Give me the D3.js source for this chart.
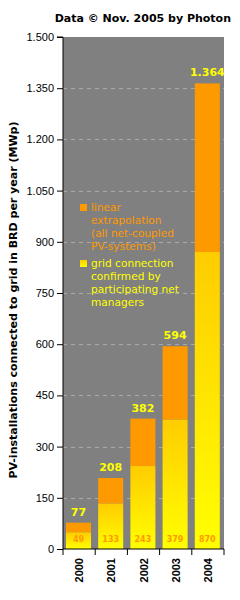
<!DOCTYPE html>
<html>
<head>
<meta charset="utf-8">
<script src="https://cdn.jsdelivr.net/npm/d3@7"></script>
<style>
  body { margin: 0; background: #ffffff; }
  svg { display: block; font-family: "DejaVu Sans", Verdana, sans-serif; }
</style>
</head>
<body>
<div id="chart"></div>
<script>
// data
const years = ['2000', '2001', '2002', '2003', '2004'];
const gridConfirmed = [49, 133, 243, 379, 870];
const totals = [77, 208, 382, 594, 1364];
const yTicks = [0, 150, 300, 450, 600, 750, 900, 1050, 1200, 1350, 1500];
const legendLines = [
  ['linear', 'extrapolation', '(all net-coupled', 'PV-systems)'],
  ['grid connection', 'confirmed by', 'participating net', 'managers']
];

const w = 240, h = 600;
const margin = { top: 37, right: 16, bottom: 51, left: 63 };
const fmt = (d) => d3.format(',')(d).replace(/,/g, '.');

let svg = d3.select('#chart').append('svg').attr('width', w).attr('height', h);

// defs
let defs = svg.append('defs');
let grad = defs.append('linearGradient')
  .attr('id', 'yellowGrad')
  .attr('x1', '0%').attr('y1', '100%')
  .attr('x2', '0%').attr('y2', '0%');
grad.append('stop').attr('offset', '0%').attr('stop-color', '#FFFF00');
grad.append('stop').attr('offset', '100%').attr('stop-color', '#FFCC00');

let x = d3.scaleBand().domain(years).range([margin.left, w - margin.right]);
let y = d3.scaleLinear().domain([0, 1500]).range([h - margin.bottom, margin.top]);

// plot background
svg.append('rect')
  .attr('x', margin.left).attr('y', margin.top)
  .attr('width', w - margin.right - margin.left)
  .attr('height', h - margin.bottom - margin.top)
  .attr('fill', '#808080');

// grid
svg.append('g').selectAll('line')
  .data(yTicks.filter(d => d > 0 && d < 1500))
  .enter().append('line')
  .attr('x1', margin.left).attr('x2', w - margin.right)
  .attr('y1', d => Math.round(y(d)) + 0.5).attr('y2', d => Math.round(y(d)) + 0.5)
  .attr('stroke', '#A8A8A8')
  .attr('stroke-dasharray', '4,4');

// legend
let legendColors = ['#FF9900', '#FFFF00'];
let legendSquareFill = ['#FF9900', 'url(#yellowGrad)'];
let legendTop = [211, 267];
legendLines.forEach((lines, i) => {
  let lg = svg.append('g');
  lg.append('rect')
    .attr('x', 80).attr('y', legendTop[i] - 7)
    .attr('width', 7).attr('height', 7)
    .attr('fill', legendSquareFill[i]);
  lg.selectAll('text')
    .data(lines)
    .enter().append('text')
    .attr('x', 91)
    .attr('y', (d, j) => legendTop[i] + j * 13)
    .attr('fill', legendColors[i])
    .attr('font-size', 10.6)
    .text(d => d);
});

// bars
const barW = 25;
const barOff = 3;
let bars = svg.append('g');
bars.selectAll('rect.top')
  .data(years)
  .enter().append('rect')
  .attr('class', 'top')
  .attr('x', d => x(d) + barOff)
  .attr('width', barW)
  .attr('y', (d, i) => y(totals[i]))
  .attr('height', (d, i) => y(gridConfirmed[i]) - y(totals[i]))
  .attr('fill', '#FF9900');

bars.selectAll('rect.bottom')
  .data(years)
  .enter().append('rect')
  .attr('class', 'bottom')
  .attr('x', d => x(d) + barOff)
  .attr('width', barW)
  .attr('y', (d, i) => y(gridConfirmed[i]))
  .attr('height', (d, i) => y(0) - y(gridConfirmed[i]))
  .attr('fill', 'url(#yellowGrad)');

// total labels
bars.selectAll('text.total')
  .data(years)
  .enter().append('text')
  .attr('class', 'total')
  .attr('x', d => x(d) + barOff + barW / 2)
  .attr('y', (d, i) => y(totals[i]) - 7)
  .attr('text-anchor', 'middle')
  .attr('font-size', 11)
  .attr('font-weight', 'bold')
  .attr('fill', '#FFFF00')
  .text((d, i) => fmt(totals[i]));

// inner labels
bars.selectAll('text.inner')
  .data(years)
  .enter().append('text')
  .attr('class', 'inner')
  .attr('x', d => x(d) + barOff + barW / 2)
  .attr('y', y(0) - 7)
  .attr('text-anchor', 'middle')
  .attr('font-size', 8)
  .attr('font-weight', 'bold')
  .attr('fill', '#FF9900')
  .text((d, i) => fmt(gridConfirmed[i]));

// y axis
let yAxis = svg.append('g')
  .attr('transform', `translate(${margin.left}, 0)`)
  .call(d3.axisLeft(y).tickValues(yTicks).tickFormat(fmt).tickSize(6).tickPadding(3));
yAxis.selectAll('text').attr('font-size', 11).attr('font-family', null).attr('fill', '#000');
yAxis.selectAll('line, path').attr('stroke', '#000');
yAxis.select('.domain').attr('d', `M-6,${y(1500)}H0V${y(0)}`);

// x axis
let xAxis = svg.append('g')
  .attr('transform', `translate(0, ${y(0)})`)
  .call(d3.axisBottom(x).tickSize(0).tickFormat(d => d));
xAxis.select('.domain').attr('stroke', '#000').attr('d', `M${margin.left},0H${w - margin.right}`);
xAxis.selectAll('text')
  .attr('font-size', 11)
  .attr('font-weight', 'bold')
  .attr('font-family', null)
  .attr('fill', '#000')
  .attr('text-anchor', 'end')
  .attr('dy', null)
  .attr('transform', 'rotate(-90)')
  .attr('x', -9)
  .attr('y', 4);
xAxis.append('g').selectAll('line')
  .data(x.domain().map(d => x(d)).concat([w - margin.right]))
  .enter().append('line')
  .attr('x1', d => d).attr('x2', d => d)
  .attr('y1', 0).attr('y2', 6)
  .attr('stroke', '#000');

// y label
svg.append('text')
  .attr('transform', 'translate(17, 300) rotate(-90)')
  .attr('text-anchor', 'middle')
  .attr('font-size', 10)
  .attr('font-weight', 'bold')
  .attr('fill', '#000')
  .attr('textLength', 357)
  .attr('lengthAdjust', 'spacingAndGlyphs')
  .text('PV-installations connected to grid in BRD per year (MWp)');

// title
svg.append('text')
  .attr('x', 231)
  .attr('y', 22)
  .attr('text-anchor', 'end')
  .attr('font-size', 11)
  .attr('font-weight', 'bold')
  .attr('fill', '#000')
  .text('Data \u00A9 Nov. 2005 by Photon');
</script>
</body>
</html>
